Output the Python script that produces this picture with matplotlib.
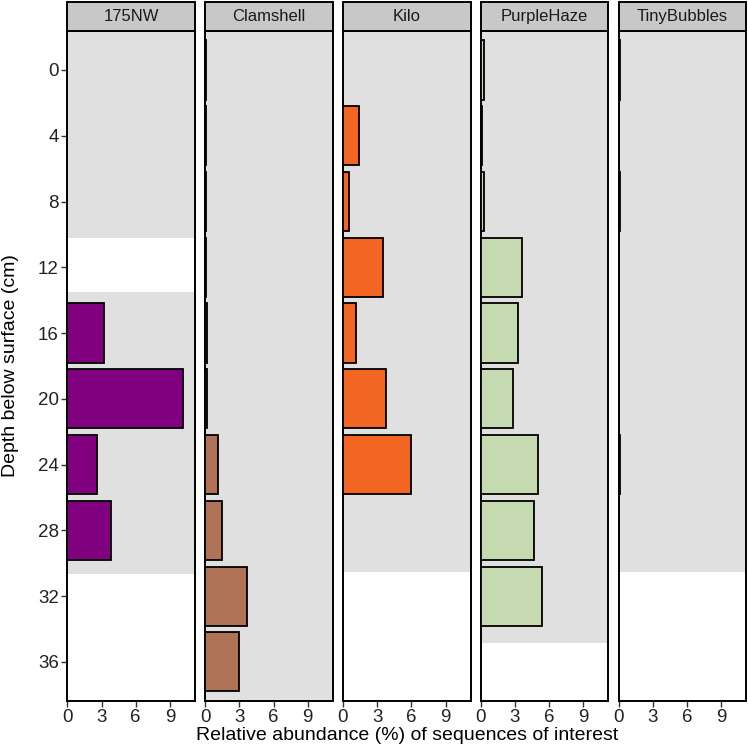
import numpy as np
import matplotlib.pyplot as plt

plt.rcParams['font.family'] = ['Liberation Sans', 'DejaVu Sans']

sites = ['175NW', 'Clamshell', 'Kilo', 'PurpleHaze', 'TinyBubbles']
depths = [0, 4, 8, 12, 16, 20, 24, 28, 32, 36]
nan = np.nan

# relative abundance (%) per depth, one list per site
abund_175nw = [nan, nan, nan, nan, 3.2, 10.18, 2.6, 3.85, nan, nan]
abund_clamshell = [0.07, 0.07, 0.07, 0.09, 0.18, 0.15, 1.16, 1.5, 3.7, 3.0]
abund_kilo = [nan, 1.37, 0.5, 3.55, 1.13, 3.75, 5.95, nan, nan, nan]
abund_purplehaze = [0.3, 0.1, 0.32, 3.65, 3.25, 2.85, 5.05, 4.7, 5.35, nan]
abund_tinybubbles = [0.1, nan, 0.12, nan, nan, nan, 0.14, nan, nan, nan]

# depth intervals that were sampled (grey background)
sampled_175nw = [(-5, 10.2), (13.5, 30.65)]
sampled_clamshell = [(-5, 45)]
sampled_kilo = [(-5, 30.55)]
sampled_purplehaze = [(-5, 34.85)]
sampled_tinybubbles = [(-5, 30.55)]

colors = ['#800080', '#B07256', '#F26522', '#C5DAB0', '#909090']

abund = [abund_175nw, abund_clamshell, abund_kilo, abund_purplehaze, abund_tinybubbles]
sampled = [sampled_175nw, sampled_clamshell, sampled_kilo, sampled_purplehaze, sampled_tinybubbles]

W = 748.0
fig = plt.figure(figsize=(7.48, 7.48), dpi=100)

left0 = 67.3
pw = 127.7
step = 137.8
bottom = 700.7
top = 31.0
strip_h = 29.5

for i, site in enumerate(sites):
    x0 = left0 + i * step
    ax = fig.add_axes([x0 / W, 1 - bottom / W, pw / W, (bottom - top) / W])
    for lo, hi in sampled[i]:
        ax.axhspan(lo, hi, color='#E0E0E0', lw=0, zorder=0)
    ax.barh(depths, abund[i], height=3.6, color=colors[i], edgecolor='black',
            linewidth=1.3, zorder=6, clip_on=False)
    ax.set_xlim(0, 11.2)
    ax.set_ylim(38.36, -2.37)
    ax.set_xticks([0, 3, 6, 9])
    ax.set_yticks(depths)
    ax.tick_params(axis='both', length=4, width=1, color='#333333',
                   labelsize=13.5, labelcolor='#222222', pad=2)
    if i > 0:
        ax.tick_params(axis='y', left=False, labelleft=False)
    for sp in ax.spines.values():
        sp.set_linewidth(1.4)
        sp.set_color('black')
        sp.set_zorder(5)

    sx = fig.add_axes([x0 / W, 1 - top / W, pw / W, strip_h / W])
    sx.set_facecolor('#C8C8C8')
    sx.set_xticks([])
    sx.set_yticks([])
    for sp in sx.spines.values():
        sp.set_linewidth(1.4)
        sp.set_color('black')
    sx.text(0.5, 0.5, site, ha='center', va='center', fontsize=12,
            color='#1a1a1a', transform=sx.transAxes)

fig.text((left0 + 4 * step + pw + left0) / 2 / W, 1 - 736 / W,
         'Relative abundance (%) of sequences of interest',
         ha='center', va='center', fontsize=14, color='black')
fig.text(11 / W, 1 - (top + bottom) / 2 / W, 'Depth below surface (cm)',
         ha='center', va='center', rotation=90, fontsize=14, color='black')

fig.savefig('out.png', dpi=100)
